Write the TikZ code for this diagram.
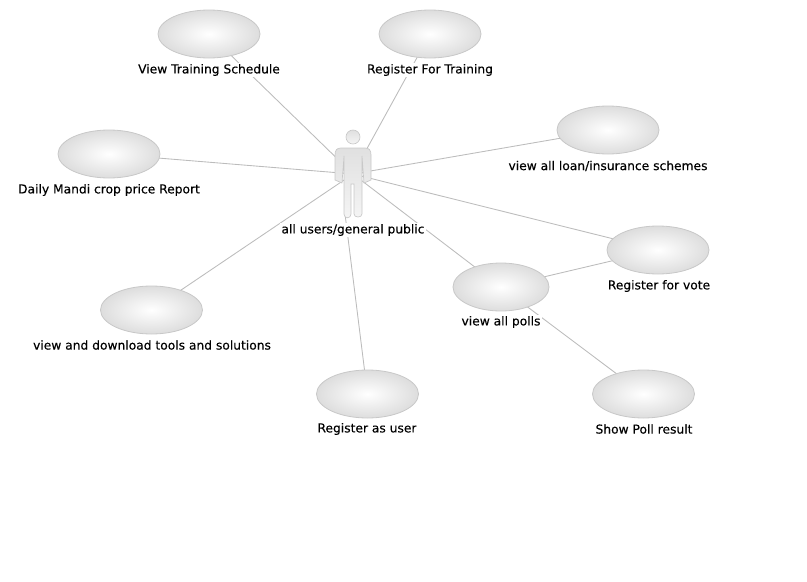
\documentclass[tikz,border=0pt]{standalone}
\usepackage{fontspec}
\setmainfont[FakeBold=0.25]{DejaVu Sans}
\usetikzlibrary{shapes.geometric}
\definecolor{linegray}{HTML}{BCBCBC}
\definecolor{rimgray}{HTML}{C8C8C8}
\definecolor{usecaseout}{HTML}{DDDDDD}
\definecolor{actorfill}{HTML}{E0E0E0}
\tikzset{
  usecase/.style={ellipse,draw=rimgray,line width=0.6pt,minimum width=76.5pt,minimum height=36pt,inner sep=0pt,
    inner color=white,outer color=usecaseout},
  caption/.style={fill=white,inner sep=0.8pt,font=\fontsize{9.2}{10}\selectfont,text=black},
  link/.style={draw=linegray,line width=0.65pt},
  actorpart/.style={draw=rimgray,line width=0.5pt,top color=actorfill,bottom color=white!96!black}
}
\begin{document}
\begin{tikzpicture}[x=0.75pt,y=-0.75pt]
\useasboundingbox (0,0) rectangle (807,582);
\path
 (209,34) coordinate (cA) (430,34) coordinate (cB) (109,154) coordinate (cC)
 (608,130) coordinate (cD) (658,250) coordinate (cE) (501,287) coordinate (cF)
 (151.5,310) coordinate (cG) (367.5,394) coordinate (cH) (643.5,394) coordinate (cI)
 (353,174) coordinate (actor) (345,214) coordinate (actorfoot);
\draw[link] (cA) -- (actor);
\draw[link] (cB) -- (actor);
\draw[link] (cC) -- (actor);
\draw[link] (cD) -- (actor);
\draw[link] (cE) -- (actor);
\draw[link] (cF) -- (actor);
\draw[link] (cG) -- (actor);
\draw[link] (cH) -- (actorfoot);
\draw[link] (cF) -- (cE);
\draw[link] (cF) -- (cI);
\node[usecase] (ucA) at (cA) {};
\node[usecase] (ucB) at (cB) {};
\node[usecase] (ucC) at (cC) {};
\node[usecase] (ucD) at (cD) {};
\node[usecase] (ucE) at (cE) {};
\node[usecase,minimum width=72pt] (ucF) at (cF) {};
\node[usecase] (ucG) at (cG) {};
\node[usecase] (ucH) at (cH) {};
\node[usecase] (ucI) at (cI) {};
\draw[actorpart] (335,155) .. controls (335,150) and (337,148) .. (341,148)
  -- (365,148) .. controls (369,148) and (371,150) .. (371,155)
  -- (371,180) -- (364,183) -- (362,156) -- (362,214)
  .. controls (362,218) and (354,218) .. (354,214) -- (354,184) -- (351,184) -- (351,214)
  .. controls (351,219) and (344,219) .. (344,214) -- (344,156) -- (342,183) -- (335,180) -- cycle;
\node[circle,actorpart,minimum size=10.5pt,inner sep=0pt] (head) at (353,137) {};
\node[caption] (lA) at (209,70) {View Training Schedule};
\node[caption] (lB) at (430,70) {Register For Training};
\node[caption] (lC) at (109,190) {Daily Mandi crop price Report};
\node[caption] (lD) at (608,166) {view all loan/insurance schemes};
\node[caption] (lE) at (659,286) {Register for vote};
\node[caption] (lF) at (501,322) {view all polls};
\node[caption] (lG) at (152,345) {view and download tools and solutions};
\node[caption] (lH) at (367,429) {Register as user};
\node[caption] (lI) at (644,429) {Show Poll result};
\node[caption] (lJ) at (353,230) {all users/general public};
\end{tikzpicture}
\end{document}
